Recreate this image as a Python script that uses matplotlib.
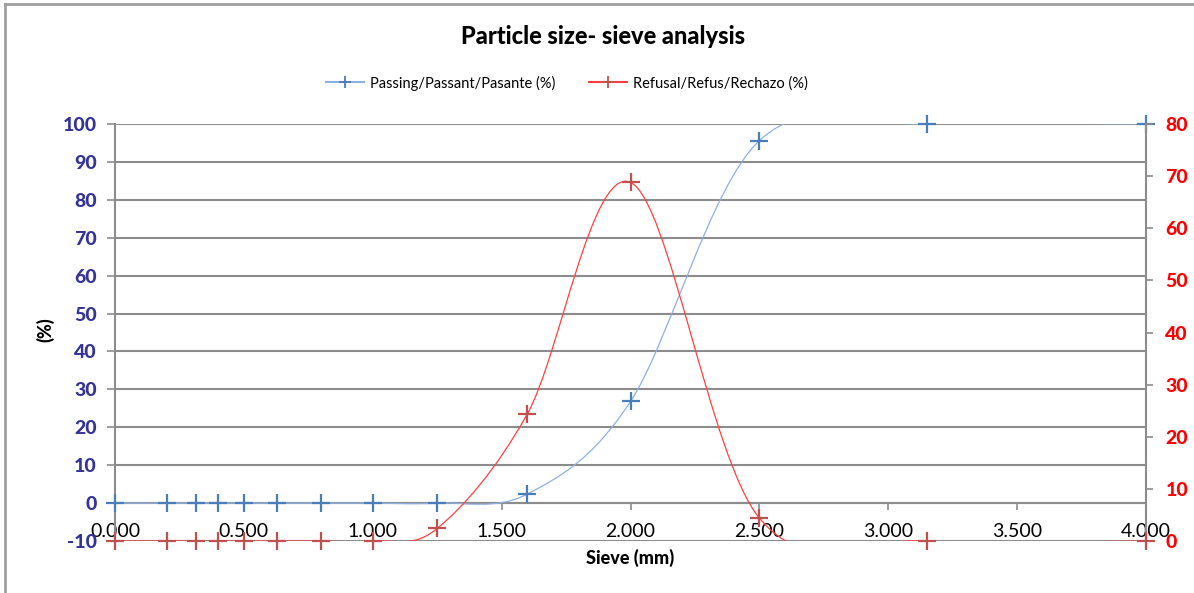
import numpy as np
import matplotlib
matplotlib.use('Agg')
import matplotlib.pyplot as plt
from matplotlib.path import Path
from matplotlib.patches import PathPatch
from matplotlib.lines import Line2D

plt.rcParams['font.family'] = ['Lato', 'DejaVu Sans']
plt.rcParams['axes.unicode_minus'] = False

# sieve opening (mm)
sieve = [0.0, 0.2, 0.315, 0.4, 0.5, 0.63, 0.8, 1.0, 1.25, 1.6, 2.0, 2.5, 3.15, 4.0]
passing = [0, 0, 0, 0, 0, 0, 0, 0, 0, 2.4, 26.8, 95.6, 100, 100]
refusal = [0, 0, 0, 0, 0, 0, 0, 0, 2.4, 24.4, 68.8, 4.4, 0, 0]

x_ticks = [0.0, 0.5, 1.0, 1.5, 2.0, 2.5, 3.0, 3.5, 4.0]
left_ticks = list(range(-10, 101, 10))
right_ticks = list(range(0, 81, 10))

blue_mk = '#4A7EBB'
blue_ln = '#8CB0E0'
red_mk = '#C0504D'
red_ln = '#FF4040'
grid_c = '#8C8C8C'
navy = '#333399'


def smooth_path(xs, ys):
    # excel-like smoothed line (catmull-rom bezier)
    p = np.column_stack([xs, ys]).astype(float)
    n = len(p)
    verts = [p[0]]
    codes = [Path.MOVETO]
    for i in range(n - 1):
        p0 = p[i - 1] if i > 0 else p[i]
        p3 = p[i + 2] if i + 2 < n else p[i + 1]
        c1 = p[i] + (p[i + 1] - p0) / 6.0
        c2 = p[i + 1] - (p3 - p[i]) / 6.0
        verts += [c1, c2, p[i + 1]]
        codes += [Path.CURVE4] * 3
    return Path(verts, codes)


fig = plt.figure(figsize=(11.94, 5.93), dpi=100)
ax = fig.add_axes([115 / 1194, 1 - 541 / 593, (1146 - 115) / 1194, (541 - 124) / 593])
ax2 = ax.twinx()

ax.set_xlim(0, 4)
ax.set_ylim(-10, 100)
ax2.set_ylim(0, 80)

for y in left_ticks:
    ax.axhline(y, color=grid_c, lw=1.5, zorder=0)

ax.add_patch(PathPatch(smooth_path(sieve, passing), fill=False, edgecolor=blue_ln, lw=0.9, zorder=3))
ax.plot(sieve, passing, ls='none', marker='+', ms=13, mew=1.6, color=blue_mk, zorder=4, clip_on=False)

ax2.add_patch(PathPatch(smooth_path(sieve, refusal), fill=False, edgecolor=red_ln, lw=0.9, zorder=3))
ax2.plot(sieve, refusal, ls='none', marker='+', ms=13, mew=1.6, color=red_mk, zorder=4, clip_on=False)

# spines
for s in ['top', 'right']:
    ax.spines[s].set_visible(False)
ax.spines['left'].set_color(grid_c)
ax.spines['left'].set_linewidth(1.5)
ax.spines['bottom'].set_position(('data', 0))
ax.spines['bottom'].set_color(grid_c)
ax.spines['bottom'].set_linewidth(1.5)
for s in ['top', 'left', 'bottom']:
    ax2.spines[s].set_visible(False)
ax2.spines['right'].set_color(grid_c)
ax2.spines['right'].set_linewidth(1.5)

ax.set_xticks(x_ticks)
ax.set_xticklabels(['%.3f' % v for v in x_ticks])
ax.tick_params(axis='x', direction='out', length=5, width=1.2, color=grid_c, pad=9,
               labelsize=14, labelcolor='black')
ax.set_yticks(left_ticks)
ax.tick_params(axis='y', direction='out', length=6, width=1.2, color=grid_c, pad=7,
               labelsize=14, labelcolor=navy)
for t in ax.get_yticklabels():
    t.set_fontweight('black')

ax2.set_yticks(right_ticks)
ax2.tick_params(axis='y', direction='out', length=5, width=1.2, color=grid_c, pad=9,
                labelsize=14, labelcolor='#FF0000')
for t in ax2.get_yticklabels():
    t.set_fontweight('black')

fig.text(630 / 1194, 1 - 558 / 593, 'Sieve (mm)', ha='center', va='center', fontsize=13, fontweight='black')
fig.text(45 / 1194, 1 - 330 / 593, '(%)', ha='center', va='center', rotation=90, fontsize=13, fontweight='black')
fig.text(603 / 1194, 1 - 37 / 593, 'Particle size- sieve analysis', ha='center', va='center',
         fontsize=17, fontweight='black')

handles = [Line2D([], [], color=blue_ln, lw=1.5, marker='+', ms=8, mew=1.3, mec=blue_mk),
           Line2D([], [], color=red_ln, lw=1.5, marker='+', ms=8, mew=1.3, mec=red_mk)]
fig.legend(handles, ['Passing/Passant/Pasante (%)', 'Refusal/Refus/Rechazo (%)'],
           loc='center', bbox_to_anchor=(567 / 1194, 1 - 83 / 593), ncol=2, frameon=False,
           fontsize=10.5, handlelength=2.6, handletextpad=0.4, columnspacing=2.3)

# chart border
fig.add_artist(Line2D([5 / 1194, 5 / 1194], [0, 1 - 4 / 593], transform=fig.transFigure, color='#A0A0A0', lw=2))
fig.add_artist(Line2D([5 / 1194, 1], [1 - 4 / 593, 1 - 4 / 593], transform=fig.transFigure, color='#A0A0A0', lw=2))

fig.savefig('out.png', dpi=100)
